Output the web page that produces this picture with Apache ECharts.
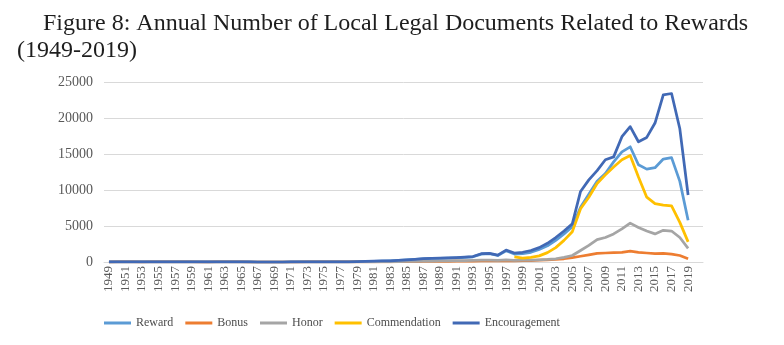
<!DOCTYPE html>
<html>
<head>
<meta charset="utf-8">
<style>
  html, body { margin: 0; padding: 0; background: #ffffff; }
  #chart { width: 784px; height: 345px; }
</style>
<script src="https://cdn.jsdelivr.net/npm/echarts@6/dist/echarts.min.js"></script>
</head>
<body>
<div id="chart"></div>
<script>
// Years covered by the series
const years = [];
for (let y = 1949; y <= 2019; y++) years.push(y);

// Tick labels on the year axis (every other year)
const yearTicks = years.filter(function (y) { return (y - 1949) % 2 === 0; });

// Annual counts per keyword, 1949–2019
const reward = [
  1, 4, 3, 5, 2, 4, 3, 5, 4, 6, 3, 2, 1, 3, 4, 5, 3, 1, 0, 0,
  0, 0, 1, 1, 2, 2, 3, 3, 7, 16,
  50, 80, 100, 130, 160, 210, 280, 350, 430, 490,
  510, 550, 590, 640, 720, 1100, 1150, 900, 1550, 1100,
  1150, 1350, 1750, 2250, 3000, 3900, 4900, 7600, 9400, 11200,
  12300, 13900, 15300, 16000, 13500, 12900, 13100, 14300, 14500, 11200,
  5800
];
const bonus = [
  0, 1, 1, 1, 0, 1, 1, 1, 1, 2, 1, 0, 0, 1, 1, 1, 1, 0, 0, 0,
  0, 0, 0, 0, 1, 1, 1, 1, 2, 4,
  10, 15, 20, 25, 30, 40, 50, 60, 70, 80,
  90, 100, 110, 120, 130, 150, 160, 150, 180, 170,
  180, 200, 250, 300, 350, 450, 600, 800, 1000, 1200,
  1250, 1300, 1350, 1500, 1350, 1250, 1150, 1200, 1100, 900,
  450
];
const honor = [
  0, 1, 1, 2, 1, 1, 1, 2, 1, 2, 1, 1, 0, 1, 1, 2, 1, 0, 0, 0,
  0, 0, 0, 1, 1, 1, 1, 2, 3, 6,
  15, 25, 30, 40, 50, 65, 80, 100, 120, 135,
  150, 160, 175, 190, 210, 250, 260, 230, 280, 240,
  250, 250, 300, 350, 450, 650, 900, 1600, 2300, 3100,
  3400, 3900, 4600, 5400, 4800, 4300, 3900, 4400, 4300, 3400,
  1900
];
const commendation = [
  null, null, null, null, null, null, null, null, null, null, null, null, null, null, null, null, null, null, null, null,
  null, null, null, null, null, null, null, null, null, null,
  null, null, null, null, null, null, null, null, null, null,
  null, null, null, null, null, null, null, null, null, 700,
  550, 650, 850, 1300, 2000, 3000, 4200, 7400, 9000, 10900,
  12100, 13200, 14200, 14800, 11800, 9000, 8100, 7900, 7800, 5500,
  2800
];
const encouragement = [
  2, 5, 4, 6, 3, 5, 4, 6, 5, 8, 4, 3, 2, 4, 5, 6, 4, 1, 0, 0,
  0, 0, 1, 1, 2, 2, 3, 4, 8, 20,
  60, 90, 110, 140, 170, 230, 300, 370, 460, 520,
  540, 580, 620, 680, 760, 1150, 1200, 950, 1650, 1250,
  1350, 1600, 2000, 2600, 3400, 4300, 5300, 9800, 11400, 12700,
  14200, 14600, 17400, 18800, 16700, 17300, 19300, 23200, 23400, 18500,
  9300
];

const seriesDefs = [
  { name: 'Reward', data: reward, color: '#5B9BD5' },
  { name: 'Bonus', data: bonus, color: '#ED7D31' },
  { name: 'Honor', data: honor, color: '#A5A5A5' },
  { name: 'Commendation', data: commendation, color: '#FFC000' },
  { name: 'Encouragement', data: encouragement, color: '#4169B5' }
];

const serif = '"Liberation Serif", "Times New Roman", serif';
const chart = echarts.init(document.getElementById('chart'), null, { renderer: 'canvas' });

chart.setOption({
  animation: false,
  backgroundColor: '#ffffff',
  graphic: [
    {
      type: 'text', left: 43, top: 12,
      style: {
        text: 'Figure 8: Annual Number of Local Legal Documents Related to Rewards',
        font: '24px ' + serif, fill: '#1e1e1e'
      }
    },
    {
      type: 'text', left: 17, top: 39,
      style: { text: '(1949-2019)', font: '24px ' + serif, fill: '#1e1e1e' }
    }
  ],
  grid: { left: 104, right: 81, top: 82, bottom: 83, containLabel: false },
  legend: {
    left: 99, top: 312,
    icon: 'rect', itemWidth: 27, itemHeight: 3, itemGap: 12,
    textStyle: { fontFamily: serif, fontSize: 12, color: '#4d4d4d' },
    data: seriesDefs.map(function (s) { return s.name; })
  },
  xAxis: {
    type: 'value',
    min: 1948.4,
    max: 2020.8,
    axisLine: { show: true, lineStyle: { color: '#D9D9D9', width: 1 } },
    axisTick: { show: false },
    splitLine: { show: false },
    axisLabel: {
      customValues: yearTicks,
      rotate: 90,
      margin: 4,
      fontFamily: serif,
      fontSize: 13,
      color: '#595959',
      formatter: function (v) { return String(Math.round(v)); }
    }
  },
  yAxis: {
    type: 'value',
    min: 0, max: 25000, interval: 5000,
    axisLine: { show: false },
    axisTick: { show: false },
    splitLine: { lineStyle: { color: '#D9D9D9', width: 1 } },
    axisLabel: {
      fontFamily: serif, fontSize: 14, color: '#595959', margin: 11,
      formatter: function (v) { return String(v); }
    }
  },
  series: seriesDefs.map(function (s) {
    return {
      name: s.name,
      type: 'line',
      symbol: 'none',
      color: s.color,
      lineStyle: { width: 2.75, color: s.color, join: 'round' },
      connectNulls: false,
      data: years.map(function (y, i) { return [y, s.data[i]]; })
    };
  })
});
</script>
</body>
</html>
